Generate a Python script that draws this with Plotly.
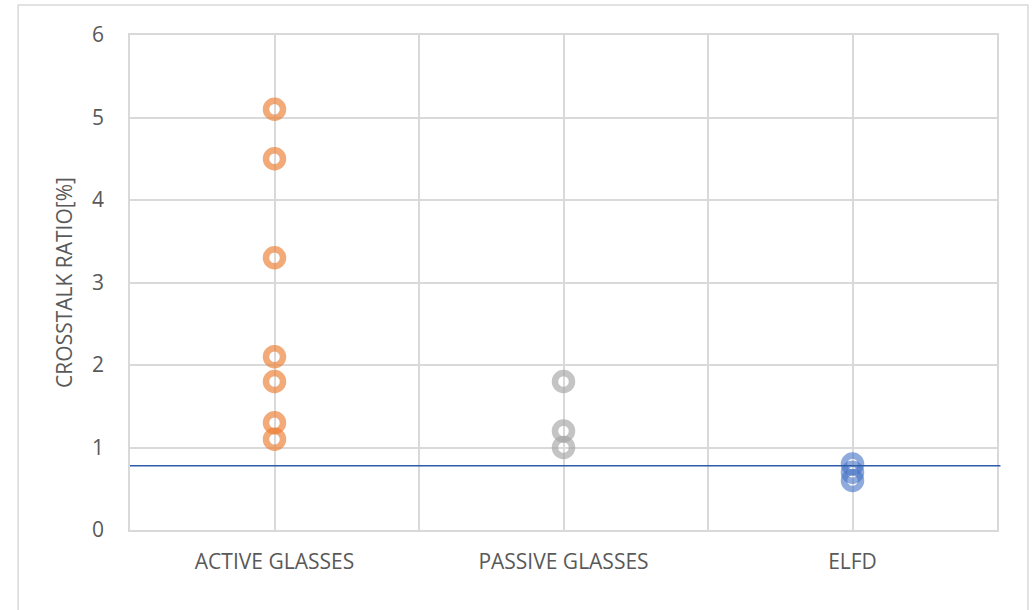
import plotly.graph_objects as go

categories = ["ACTIVE GLASSES", "PASSIVE GLASSES", "ELFD"]
active_values = [5.1, 4.5, 3.3, 2.1, 1.8, 1.3, 1.1]
passive_values = [1.8, 1.2, 1.0]
elfd_values = [0.8, 0.7, 0.6]
threshold = 0.78
y_ticks = [0, 1, 2, 3, 4, 5, 6]

series = [
    (categories[0], active_values, "rgba(237,125,49,0.65)"),
    (categories[1], passive_values, "rgba(165,165,165,0.65)"),
    (categories[2], elfd_values, "rgba(68,114,196,0.6)"),
]

font_family = "Open Sans, Noto Sans, sans-serif"

fig = go.Figure()
for cat, vals, col in series:
    idx = categories.index(cat)
    fig.add_trace(go.Scatter(
        x=[idx] * len(vals), y=vals, mode="markers",
        marker=dict(symbol="circle-open", size=17, color=col,
                    line=dict(width=6.5, color=col)),
        showlegend=False, hoverinfo="y",
    ))

fig.add_shape(type="line", xref="paper", yref="y", x0=0, x1=1.004,
              y0=threshold, y1=threshold,
              line=dict(color="#2E5CA8", width=1.5))
fig.add_shape(type="rect", xref="paper", yref="paper",
              x0=-0.129, x1=1.0357, y0=-0.17, y1=1.0606,
              line=dict(color="#D9D9D9", width=1.5), layer="below")

fig.update_layout(
    width=1036, height=610,
    margin=dict(l=130, r=39, t=35, b=80),
    paper_bgcolor="white", plot_bgcolor="white",
    font=dict(family=font_family, color="#595959", size=21),
    xaxis=dict(
        range=[-0.5, len(categories) - 0.5],
        tickvals=list(range(len(categories))), ticktext=categories,
        showgrid=True, gridcolor="#D9D9D9", gridwidth=1.5,
        minor=dict(tickvals=[i - 0.5 for i in range(len(categories) + 1)],
                   showgrid=True, gridcolor="#D9D9D9", gridwidth=1.5),
        showline=True, linecolor="#D9D9D9", linewidth=1.5, mirror=True,
        zeroline=False, ticks="", ticklabelstandoff=12,
        tickfont=dict(size=21),
    ),
    yaxis=dict(
        range=[0, 6], tickvals=y_ticks,
        showgrid=True, gridcolor="#D9D9D9", gridwidth=1.5,
        showline=True, linecolor="#D9D9D9", linewidth=1.5, mirror=True,
        zeroline=False, ticks="", ticklabelstandoff=20,
        tickfont=dict(size=21),
        title=dict(text="CROSSTALK RATIO[%]", font=dict(size=21), standoff=14),
    ),
)

fig.write_html("out.html")
